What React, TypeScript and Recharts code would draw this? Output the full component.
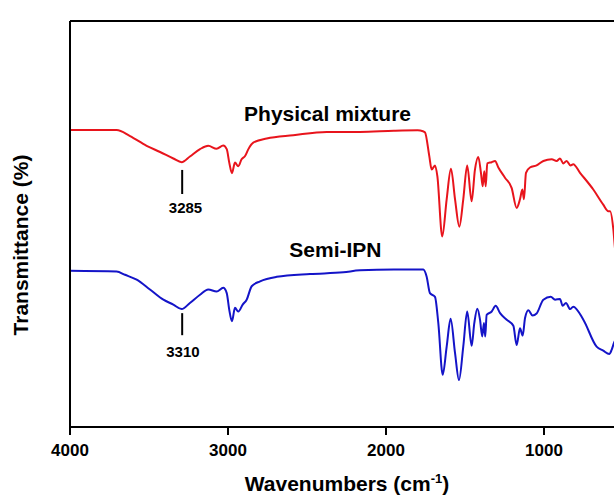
import { LineChart, Line, XAxis, YAxis, ReferenceLine, ReferenceDot } from "recharts";

// FTIR spectra, values
const redWavenumber = [
  4000, 3705, 3620, 3515, 3430, 3346, 3293, 3241, 3177, 3125, 3072, 3030, 3008, 2992, 2975, 2956, 2935, 2914,
  2892, 2871, 2840, 2755, 2587, 2375, 2165, 1950, 1800, 1766, 1753, 1726, 1711, 1690, 1675, 1644, 1616, 1589,
  1563, 1536, 1511, 1486, 1458, 1437, 1416, 1399, 1388, 1378, 1369, 1359, 1331, 1310, 1289, 1247, 1205, 1173,
  1152, 1137, 1127, 1114, 1089, 1047, 1004, 951, 920, 899, 878, 857, 832, 815, 772, 688, 625, 593, 582, 561,
  550, 530, 500,
];
const redTransmittance = [
  73.3, 73.3, 71.8, 69.4, 67.9, 66.3, 65.4, 66.8, 68.6, 69.4, 68.7, 69.5, 68.6, 65.3, 62.7, 65.3, 64.4, 66.1,
  66.9, 68.6, 70.2, 71.2, 72.0, 72.8, 72.8, 73.1, 73.2, 73.0, 72.7, 66.9, 63.6, 64.6, 62.0, 47.2, 56.3, 63.8,
  56.3, 49.6, 56.3, 64.6, 55.8, 63.6, 66.7, 62.8, 59.5, 63.2, 59.5, 65.1, 65.4, 65.7, 64.1, 61.6, 59.1, 54.2,
  56.3, 58.7, 56.3, 62.8, 64.1, 64.6, 65.7, 66.1, 65.7, 66.3, 65.1, 65.7, 64.6, 64.9, 62.8, 58.7, 55.0, 53.4,
  53.4, 48.9, 44.0, 40.0, 37.0,
];

const blueWavenumber = [
  4000, 3705, 3652, 3578, 3494, 3409, 3346, 3293, 3241, 3177, 3125, 3072, 3030, 3008, 2992, 2975, 2956, 2935,
  2907, 2882, 2850, 2797, 2692, 2481, 2270, 2165, 1950, 1800, 1764, 1743, 1722, 1690, 1669, 1641, 1616, 1591,
  1563, 1538, 1511, 1486, 1458, 1441, 1422, 1405, 1391, 1380, 1372, 1363, 1331, 1306, 1278, 1236, 1194, 1173,
  1152, 1135, 1120, 1099, 1072, 1047, 1004, 957, 930, 899, 882, 861, 835, 815, 751, 667, 625, 587, 572, 557,
  530, 500,
];
const blueTransmittance = [
  38.8, 38.6, 37.8, 36.6, 34.2, 31.7, 30.5, 29.4, 30.9, 32.9, 34.2, 33.7, 34.6, 33.3, 29.2, 26.4, 29.7, 28.8,
  30.5, 31.7, 35.0, 36.2, 37.3, 38.0, 38.4, 38.9, 39.1, 39.1, 39.1, 37.4, 33.3, 32.4, 26.0, 13.3, 20.2, 27.0,
  18.6, 12.0, 20.2, 28.8, 20.4, 26.0, 29.5, 26.8, 22.7, 26.0, 22.7, 28.0, 28.8, 30.2, 28.4, 26.8, 25.3, 20.6,
  24.7, 22.9, 27.2, 29.1, 27.8, 28.3, 31.7, 32.4, 31.7, 31.9, 30.2, 30.9, 29.4, 30.0, 26.8, 20.2, 19.2, 18.4,
  19.4, 21.1, 23.1, 25.0,
];

const xTicks = [4000, 3000, 2000, 1000];
const seriesNames = ["Physical mixture", "Semi-IPN"];
const peakLabels = ["3285", "3310"];

const redData = redWavenumber.map((wn, i) => ({ wn, t: redTransmittance[i] }));
const blueData = blueWavenumber.map((wn, i) => ({ wn, t: blueTransmittance[i] }));

const font = "'Liberation Sans', Arial, sans-serif";
const bold = { fill: "#000", fontWeight: 700, fontFamily: font };

export default function App() {
  return (
    <div style={{ position: "fixed", left: 0, top: 0, width: 614, height: 500, overflow: "hidden", background: "#fff" }}>
      <LineChart width={633} height={500} margin={{ top: 21, right: 10, bottom: 13, left: 30 }}>
        <XAxis
          dataKey="wn"
          type="number"
          domain={[500, 4000]}
          reversed
          allowDataOverflow
          ticks={xTicks}
          tick={{ ...bold, fontSize: 17 }}
          tickSize={8}
          tickMargin={9}
          height={60}
          axisLine={{ stroke: "#000", strokeWidth: 2 }}
          tickLine={{ stroke: "#000", strokeWidth: 2 }}
          label={{
            content: () => (
              <text x={347} y={491} textAnchor="middle" fontSize={21} {...bold}>
                Wavenumbers (cm
                <tspan fontSize={13} dy={-8}>-1</tspan>
                <tspan dy={8}>)</tspan>
              </text>
            ),
          }}
        />
        <YAxis
          type="number"
          domain={[0.5, 100]}
          allowDataOverflow
          tick={false}
          tickLine={false}
          width={40}
          axisLine={{ stroke: "#000", strokeWidth: 2 }}
          label={{
            content: () => (
              <text x={28} y={245} transform="rotate(-90 28 245)" textAnchor="middle" fontSize={21} {...bold}>
                Transmittance (%)
              </text>
            ),
          }}
        />
        <ReferenceLine y={100} stroke="#000" strokeWidth={2} />
        <Line data={redData} dataKey="t" type="monotone" stroke="#e8141c" strokeWidth={2} dot={false} isAnimationActive={false} />
        <Line data={blueData} dataKey="t" type="monotone" stroke="#1414c8" strokeWidth={2} dot={false} isAnimationActive={false} />
        <ReferenceLine segment={[{ x: 3290, y: 63.5 }, { x: 3290, y: 57.6 }]} stroke="#000" strokeWidth={2} />
        <ReferenceLine segment={[{ x: 3290, y: 28.4 }, { x: 3290, y: 23.0 }]} stroke="#000" strokeWidth={2} />
        <ReferenceDot x={3269} y={54.3} r={0} stroke="none" fill="none"
          label={{ value: peakLabels[0], position: "center", fontSize: 15, ...bold }} />
        <ReferenceDot x={3285} y={19.0} r={0} stroke="none" fill="none"
          label={{ value: peakLabels[1], position: "center", fontSize: 15, ...bold }} />
        <ReferenceDot x={2370} y={77.2} r={0} stroke="none" fill="none"
          label={{ value: seriesNames[0], position: "center", fontSize: 21, ...bold }} />
        <ReferenceDot x={2320} y={43.9} r={0} stroke="none" fill="none"
          label={{ value: seriesNames[1], position: "center", fontSize: 21, ...bold }} />
      </LineChart>
    </div>
  );
}
